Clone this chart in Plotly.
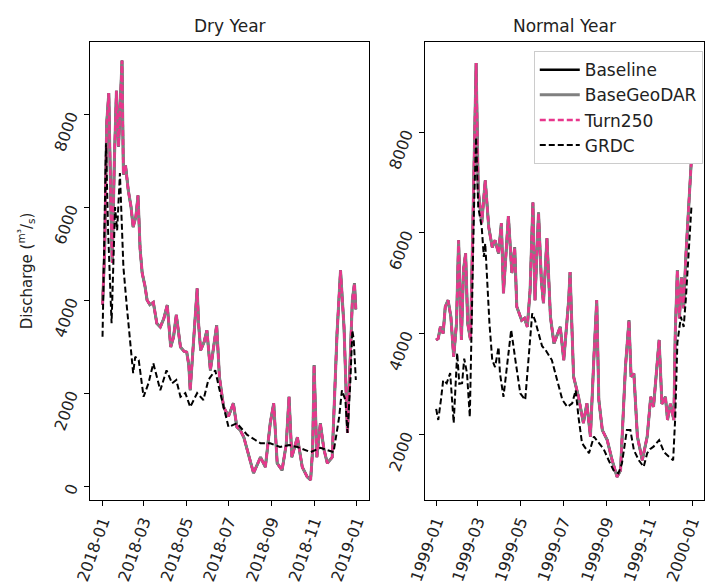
import pandas as pd
import plotly.graph_objects as go
from plotly.subplots import make_subplots

# ---------------- Dry year (2018) ----------------
dry_model_days = [0, 3, 6, 9, 12, 14, 17, 20, 23, 26, 28, 30, 33, 37, 41, 44, 48, 51, 54, 57,
                  61, 64, 68, 73, 78, 83, 88, 93, 98, 102, 106, 112, 117, 121, 124, 126, 130, 133,
                  136, 138, 141, 146, 150, 155, 160, 164, 168, 174, 181, 188, 193, 198, 203, 208,
                  212, 217, 222, 227, 234, 238, 241, 246, 251, 258, 264, 268, 272, 280, 287, 294,
                  299, 302, 304, 308, 313, 318, 323, 330, 334, 337, 342, 347, 352, 356, 359, 362, 364]
dry_baseline = [3900, 5000, 7800, 8450, 6000, 4800, 7000, 8500, 7300, 8600, 9150, 6700, 6900, 6360,
                6000, 5570, 5800, 6250, 5100, 4580, 4300, 4000, 3900, 3950, 3500, 3420, 3600, 3890,
                2990, 3200, 3680, 2990, 2900, 2880, 2600, 2060, 3000, 3500, 4250, 3500, 2920, 3100,
                3350, 2490, 3000, 3460, 2340, 1700, 1500, 1780, 1270, 1200, 1050, 770, 500, 280,
                450, 620, 410, 900, 1350, 1780, 490, 340, 900, 1920, 620, 1050, 410, 200, 130, 800,
                2600, 620, 1350, 800, 490, 620, 2000, 3290, 4640, 3420, 1140, 3000, 4000, 4360, 3800]
dry_basegeodar = list(dry_baseline)
dry_turn250 = list(dry_baseline)

dry_grdc_days = [0, 2, 5, 8, 13, 18, 21, 25, 30, 35, 40, 44, 47, 52, 59, 66, 73, 83, 92, 100, 106,
                 112, 119, 126, 136, 145, 152, 162, 167, 174, 181, 193, 208, 227, 241, 255, 268,
                 280, 299, 313, 332, 340, 344, 349, 352, 356, 359, 361, 364]
dry_grdc = [3210, 5000, 7370, 5500, 3500, 6000, 5500, 6730, 4710, 3850, 3140, 2430, 2780, 2710,
            1920, 2210, 2640, 2060, 2490, 2210, 2280, 1920, 2000, 1700, 2000, 1850, 2280, 2490,
            2140, 1700, 1270, 1350, 1100, 920, 920, 840, 880, 840, 730, 820, 730, 1480, 2060,
            1850, 1140, 2210, 3350, 3140, 2280]

# ---------------- Normal year (1999) ----------------
nor_model_days = [0, 3, 6, 10, 13, 17, 21, 25, 29, 32, 36, 39, 42, 45, 49, 53, 57, 60, 65, 70, 75,
                  80, 84, 89, 93, 96, 103, 108, 112, 115, 122, 126, 130, 134, 138, 141, 146, 150,
                  153, 158, 163, 168, 177, 182, 189, 191, 196, 203, 210, 215, 220, 225, 229, 232,
                  237, 244, 251, 258, 263, 270, 275, 278, 282, 287, 294, 301, 306, 310, 318, 322,
                  327, 330, 334, 339, 341, 344, 347, 350, 353, 356, 360, 364]
nor_baseline = [3870, 3900, 4130, 4000, 4530, 4660, 4330, 3540, 4200, 5850, 3870, 5260, 5590, 4200,
                3870, 6510, 9370, 6850, 6190, 7040, 6110, 5710, 5850, 5590, 6190, 4800, 6330, 5200,
                5710, 4530, 4260, 4300, 4130, 4860, 6600, 4660, 6400, 5060, 4600, 5890, 4330, 3800,
                4130, 3470, 4660, 5220, 3140, 2740, 2220, 2610, 1950, 3530, 4660, 2680, 2080, 1880,
                1480, 1150, 1280, 3340, 4260, 3140, 3200, 1950, 1480, 1950, 2740, 2540, 3870, 2600,
                2740, 2280, 2600, 2280, 4000, 5260, 4300, 5120, 4500, 5500, 6500, 7450]
nor_basegeodar = list(nor_baseline)
nor_turn250 = list(nor_baseline)

nor_grdc_days = [0, 3, 7, 10, 15, 20, 25, 30, 33, 37, 40, 44, 48, 51, 54, 57, 60, 65, 68, 70, 72,
                 76, 80, 84, 89, 91, 96, 101, 107, 113, 120, 127, 132, 137, 141, 146, 151, 156,
                 165, 172, 180, 187, 194, 199, 203, 208, 218, 225, 232, 239, 246, 253, 260, 265,
                 272, 277, 282, 289, 296, 301, 305, 310, 318, 325, 332, 338, 341, 344, 349, 353,
                 356, 360, 364]
nor_grdc = [2500, 2280, 2700, 3070, 3010, 3210, 2220, 3610, 3000, 3010, 3500, 3210, 2340, 4530,
            6500, 7900, 6510, 6110, 5520, 5790, 5260, 4200, 3470, 3330, 3730, 3210, 2740, 3330,
            4070, 3470, 2810, 2680, 3530, 4400, 4260, 4000, 3750, 3670, 3470, 3100, 2680, 2540,
            2610, 2870, 2340, 1820, 1620, 1950, 1820, 1700, 1480, 1280, 1220, 1420, 2080, 2080,
            1680, 1480, 1350, 1620, 1700, 1750, 1880, 1640, 1550, 1480, 2340, 3810, 4330, 4130,
            4660, 5650, 6500]

series_names = ["Baseline", "BaseGeoDAR", "Turn250", "GRDC"]
titles = ["Dry Year", "Normal Year"]
dry_ticks_y = [0, 2000, 4000, 6000, 8000]
nor_ticks_y = [2000, 4000, 6000, 8000]


def to_dates(start, days):
    return pd.Timestamp(start) + pd.to_timedelta(days, unit="D")


styles = {
    "Baseline": dict(color="black", width=2.5, dash="solid"),
    "BaseGeoDAR": dict(color="#808080", width=3, dash="solid"),
    "Turn250": dict(color="#e8368c", width=2.5, dash="6px,3px"),
    "GRDC": dict(color="black", width=2, dash="6px,3px"),
}

fig = make_subplots(rows=1, cols=2, horizontal_spacing=0.091, subplot_titles=titles)

panels = [
    ("2018-01-01", dry_model_days, dry_baseline, dry_basegeodar, dry_turn250, dry_grdc_days, dry_grdc),
    ("1999-01-01", nor_model_days, nor_baseline, nor_basegeodar, nor_turn250, nor_grdc_days, nor_grdc),
]

for i, (start, mdays, base, geo, turn, gdays, grdc) in enumerate(panels):
    col = i + 1
    mx = to_dates(start, mdays)
    gx = to_dates(start, gdays)
    data = {"Baseline": (mx, base), "BaseGeoDAR": (mx, geo), "Turn250": (mx, turn), "GRDC": (gx, grdc)}
    for name in series_names:
        x, y = data[name]
        fig.add_trace(go.Scatter(x=x, y=y, mode="lines", name=name, line=styles[name],
                                 showlegend=(i == 1)), row=1, col=col)

axis_common = dict(showline=True, linecolor="black", linewidth=1, mirror=True,
                   ticks="outside", ticklen=5, tickcolor="black", showgrid=False,
                   zeroline=False, tickfont=dict(size=16, color="#222"))

fig.update_xaxes(**axis_common, tickformat="%Y-%m", dtick="M2", tickangle=-70)
fig.update_xaxes(range=["2017-12-14", "2019-01-19"], tick0="2018-01-01", row=1, col=1)
fig.update_xaxes(range=["1998-12-16", "2000-01-18"], tick0="1999-01-01", row=1, col=2)

fig.update_yaxes(**axis_common, tickangle=-70, ticklabelstandoff=10)
fig.update_yaxes(range=[-300, 9550], tickvals=dry_ticks_y, row=1, col=1,
                 title=dict(text="Discharge (<sup>m³</sup>/<sub>s</sub>)", font=dict(size=15, color="#222"), standoff=14))
fig.update_yaxes(range=[690, 9790], tickvals=nor_ticks_y, row=1, col=2)

for ann in fig.layout.annotations:
    ann.font = dict(size=17, color="#222", family="DejaVu Sans")
    ann.yshift = 4

fig.update_layout(
    width=706, height=586,
    margin=dict(l=90, r=2, t=42, b=86),
    paper_bgcolor="white", plot_bgcolor="white",
    font=dict(family="DejaVu Sans", color="#222"),
    legend=dict(x=0.998, y=0.98, xanchor="right", yanchor="top",
                bgcolor="white", bordercolor="#cccccc", borderwidth=1,
                font=dict(size=17, color="#222"), tracegroupgap=2, itemwidth=40),
)

fig.write_html("out.html")
